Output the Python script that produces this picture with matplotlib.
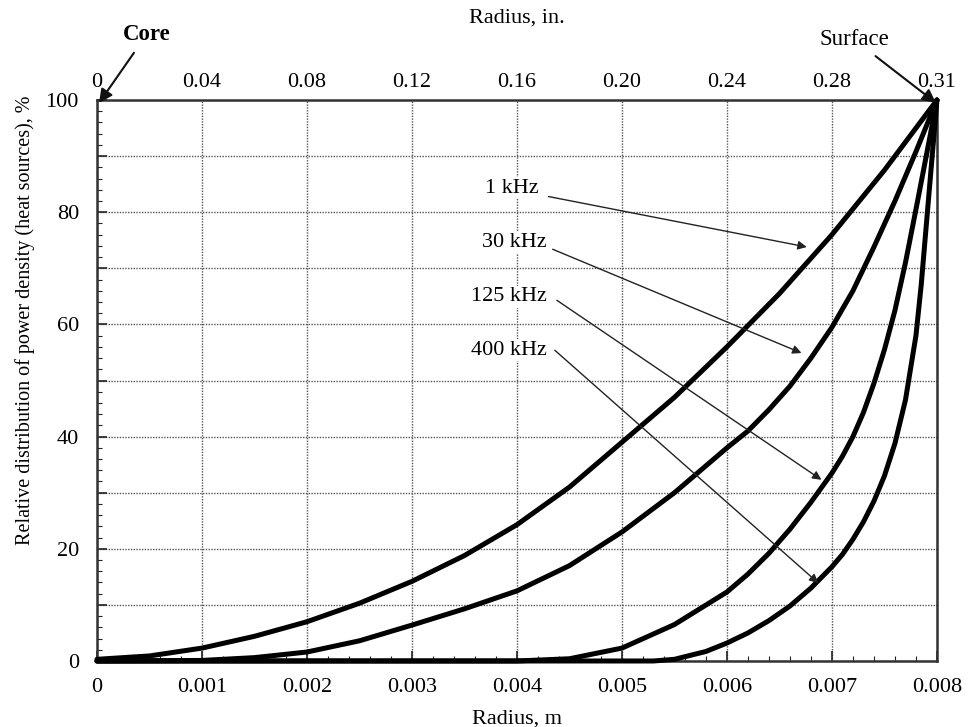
import matplotlib
matplotlib.use('Agg')
import matplotlib.pyplot as plt
from matplotlib.ticker import MultipleLocator

plt.rcParams['font.family'] = ['Liberation Serif', 'DejaVu Serif']
plt.rcParams['font.size'] = 16

# radio (m) y densidad de potencia relativa (%)
r_1k = [0, 0.0005, 0.001, 0.0015, 0.002, 0.0025, 0.003, 0.0035, 0.004, 0.0045,
        0.005, 0.0055, 0.006, 0.0065, 0.007, 0.0075, 0.008]
p_1k = [0.3, 0.9, 2.3, 4.4, 7.0, 10.3, 14.2, 18.8, 24.3, 31.0,
        39.0, 47.0, 56.0, 65.5, 76.0, 87.5, 100]

r_30k = [0, 0.001, 0.0015, 0.002, 0.0025, 0.003, 0.0035, 0.004, 0.0045, 0.005,
         0.0055, 0.006, 0.0062, 0.0064, 0.0066, 0.0068, 0.007, 0.0072, 0.0074,
         0.0076, 0.0078, 0.008]
p_30k = [0, 0.1, 0.6, 1.6, 3.6, 6.4, 9.3, 12.5, 17.0, 23.0,
         30.0, 38.0, 41.0, 44.8, 49.0, 54.0, 59.5, 66.0, 73.8,
         82.0, 90.8, 100]

r_125k = [0, 0.004, 0.0045, 0.005, 0.0055, 0.006, 0.0062, 0.0064, 0.0066, 0.0068,
          0.007, 0.0071, 0.0072, 0.0073, 0.0074, 0.0075, 0.0076, 0.0077, 0.0078,
          0.0079, 0.008]
p_125k = [0, 0, 0.4, 2.3, 6.5, 12.3, 15.5, 19.2, 23.5, 28.3,
          33.5, 36.5, 40.0, 44.3, 49.5, 55.5, 62.5, 71.0, 80.5,
          90.2, 100]

r_400k = [0, 0.0053, 0.0055, 0.0058, 0.006, 0.0062, 0.0064, 0.0066, 0.0068, 0.007,
          0.0071, 0.0072, 0.0073, 0.0074, 0.0075, 0.0076, 0.0077, 0.0078, 0.00785,
          0.0079, 0.00795, 0.008]
p_400k = [0, 0, 0.3, 1.7, 3.2, 5.0, 7.2, 9.8, 13.0, 16.8,
          19.0, 21.7, 24.8, 28.5, 33.0, 38.8, 46.5, 58.0, 67.0,
          78.0, 89.0, 100]

curvas = [(r_1k, p_1k), (r_30k, p_30k), (r_125k, p_125k), (r_400k, p_400k)]

etiquetas = ['1 kHz', '30 kHz', '125 kHz', '400 kHz']
pos_texto = [(0.00421, 84.3), (0.00428, 74.6), (0.00428, 64.9), (0.00428, 55.4)]
pos_inicio = [(0.00430, 82.8), (0.00434, 73.4), (0.00438, 64.3), (0.00436, 55.4)]
pos_flecha = [(0.00676, 73.8), (0.00671, 54.9), (0.00690, 32.3), (0.00687, 13.9)]

ticks_m = [0, 0.001, 0.002, 0.003, 0.004, 0.005, 0.006, 0.007, 0.008]
ticks_m_txt = ['0', '0.001', '0.002', '0.003', '0.004', '0.005', '0.006', '0.007', '0.008']
ticks_in_txt = ['0', '0.04', '0.08', '0.12', '0.16', '0.20', '0.24', '0.28', '0.31']

fig = plt.figure(figsize=(9.77, 7.27), dpi=100)
ax = fig.add_axes([0.0993, 0.0908, 0.8597, 0.7716])

for r, p in curvas:
    ax.plot(r, p, color='black', lw=3.6, solid_joinstyle='round',
            solid_capstyle='round', clip_on=False, zorder=3)

ax.set_xlim(0, 0.008)
ax.set_ylim(0, 100)

ax.set_xticks(ticks_m)
ax.set_xticklabels(ticks_m_txt)
ax.xaxis.set_minor_locator(MultipleLocator(0.0002))
ax.set_yticks(range(0, 101, 10))
ax.set_yticklabels([str(v) if v % 20 == 0 else '' for v in range(0, 101, 10)])
ax.yaxis.set_minor_locator(MultipleLocator(2))

ax.tick_params(axis='both', which='major', direction='in', length=7, width=1.2, color='#222222')
ax.tick_params(axis='both', which='minor', direction='in', length=3.5, width=0.8, color='#222222')
ax.tick_params(axis='x', which='major', pad=12)
ax.tick_params(axis='y', which='major', pad=13)

ax.grid(True, which='major', linestyle=(0, (1, 1)), color='#555555', lw=1.0)

for lado in ['left', 'top', 'right', 'bottom']:
    ax.spines[lado].set_linewidth(1.8)
    ax.spines[lado].set_color('#333333')

ax.set_xlabel('Radius, m', labelpad=9)
ax.set_ylabel('Relative distribution of power density (heat sources), %', fontsize=14.5)
ax.yaxis.set_label_coords(-0.074, 0.608)

# eje superior en pulgadas
ax2 = ax.twiny()
ax2.set_xlim(ax.get_xlim())
ax2.set_xticks(ticks_m)
ax2.set_xticklabels(ticks_in_txt)
ax2.tick_params(axis='x', length=0, pad=6)
ax2.set_xlabel('Radius, in.', labelpad=36)
for lado in ['left', 'top', 'right', 'bottom']:
    ax2.spines[lado].set_visible(False)

for texto, pt, pi, pf in zip(etiquetas, pos_texto, pos_inicio, pos_flecha):
    ax.text(pt[0], pt[1], texto, ha='right', va='center', fontsize=16,
            bbox=dict(facecolor='white', edgecolor='none', pad=1))
    ax.annotate('', xy=pf, xytext=pi,
                arrowprops=dict(arrowstyle='-|>', color='#222222', lw=1.0,
                                mutation_scale=13, shrinkA=0, shrinkB=0))

ax.annotate('Core', xy=(0.00002, 99.5), xytext=(0.00047, 111.6),
            ha='center', va='center', fontsize=16.5, fontweight='bold',
            annotation_clip=False,
            arrowprops=dict(arrowstyle='-|>', color='#111111', lw=1.5,
                            mutation_scale=20, shrinkA=4, shrinkB=0))
ax.annotate('Surface', xy=(0.00799, 99.5), xytext=(0.00721, 110.8),
            ha='center', va='center', fontsize=16.5,
            annotation_clip=False,
            arrowprops=dict(arrowstyle='-|>', color='#111111', lw=1.5,
                            mutation_scale=20, shrinkA=4, shrinkB=0))

fig.savefig('out.png', dpi=100)
